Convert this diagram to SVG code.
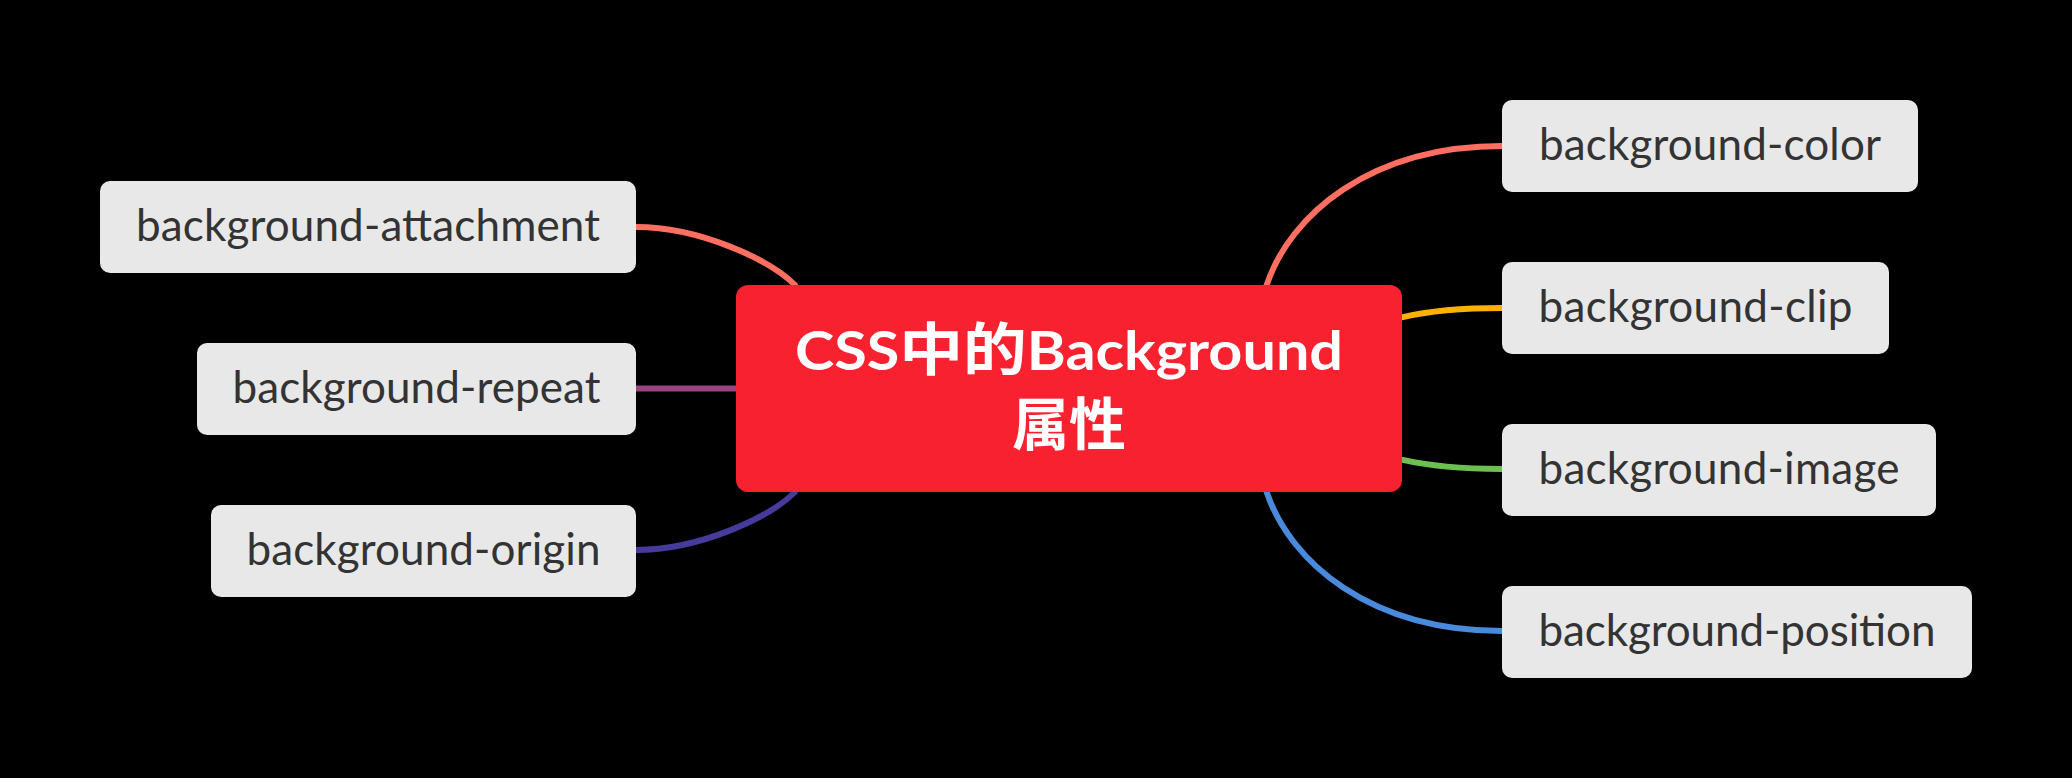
<svg xmlns="http://www.w3.org/2000/svg" width="2072" height="778" viewBox="0 0 2072 778">
<style>
.bg{fill:#000000}
.conn{fill:none;stroke-width:6;stroke-linecap:butt}
.box{fill:#E8E8E8}
.lbl{font-family:Lato,"Noto Sans","Liberation Sans",sans-serif;font-size:44px;fill:#333333;text-anchor:middle}
.root{fill:#F7212F}
.rt{font-family:Lato,"Noto Sans CJK SC","Liberation Sans",sans-serif;font-weight:bold;font-size:53px;fill:#FFFFFF;text-anchor:middle}
.cjk{font-family:"Noto Sans CJK SC",sans-serif;font-size:57px}
</style>
<rect class="bg" x="0" y="0" width="2072" height="778"/>
<g id="connectors">
  <path class="conn" stroke="#FF6F61" d="M800,300 L795,285 C770,260 700,227 636,227"/>
  <path class="conn" stroke="#9C4182" d="M636,388.5 L760,388.5"/>
  <path class="conn" stroke="#463A9A" d="M800,477 L795,492 C770,517 700,550 636,550"/>
  <path class="conn" stroke="#FF6F61" d="M1261.7,300 L1266.7,285 C1290,215 1370,146 1502,146"/>
  <path class="conn" stroke="#FFB100" d="M1380,323 L1401.7,317.3 C1431.7,310.3 1460,308 1502,308"/>
  <path class="conn" stroke="#6BC050" d="M1380,454 L1401.7,459.7 C1431.7,466.7 1460,469 1502,469"/>
  <path class="conn" stroke="#4A8ADC" d="M1261.7,477 L1266.7,492 C1290,562 1370,631 1502,631"/>
</g>
<g id="root">
  <rect class="root" x="736" y="285" width="666" height="207" rx="12"/>
  <text class="rt" x="1069" y="370" textLength="548" lengthAdjust="spacingAndGlyphs">CSS<tspan class="cjk">中的</tspan>Background</text>
  <text class="rt" x="1069" y="445"><tspan class="cjk">属性</tspan></text>
</g>
<g id="n-attachment">
  <rect class="box" x="100" y="181" width="536" height="92" rx="10"/>
  <text class="lbl" x="368" y="241" textLength="464">background-attachment</text>
</g>
<g id="n-repeat">
  <rect class="box" x="197" y="343" width="439" height="92" rx="10"/>
  <text class="lbl" x="416.5" y="403" textLength="368">background-repeat</text>
</g>
<g id="n-origin">
  <rect class="box" x="211" y="505" width="425" height="92" rx="10"/>
  <text class="lbl" x="423.5" y="565" textLength="354">background-origin</text>
</g>
<g id="n-color">
  <rect class="box" x="1502" y="100" width="416" height="92" rx="10"/>
  <text class="lbl" x="1710" y="160" textLength="342">background-color</text>
</g>
<g id="n-clip">
  <rect class="box" x="1502" y="262" width="387" height="92" rx="10"/>
  <text class="lbl" x="1695.5" y="322" textLength="314">background-clip</text>
</g>
<g id="n-image">
  <rect class="box" x="1502" y="424" width="434" height="92" rx="10"/>
  <text class="lbl" x="1719" y="484" textLength="361">background-image</text>
</g>
<g id="n-position">
  <rect class="box" x="1502" y="586" width="470" height="92" rx="10"/>
  <text class="lbl" x="1737" y="646" textLength="397">background-position</text>
</g>
</svg>
